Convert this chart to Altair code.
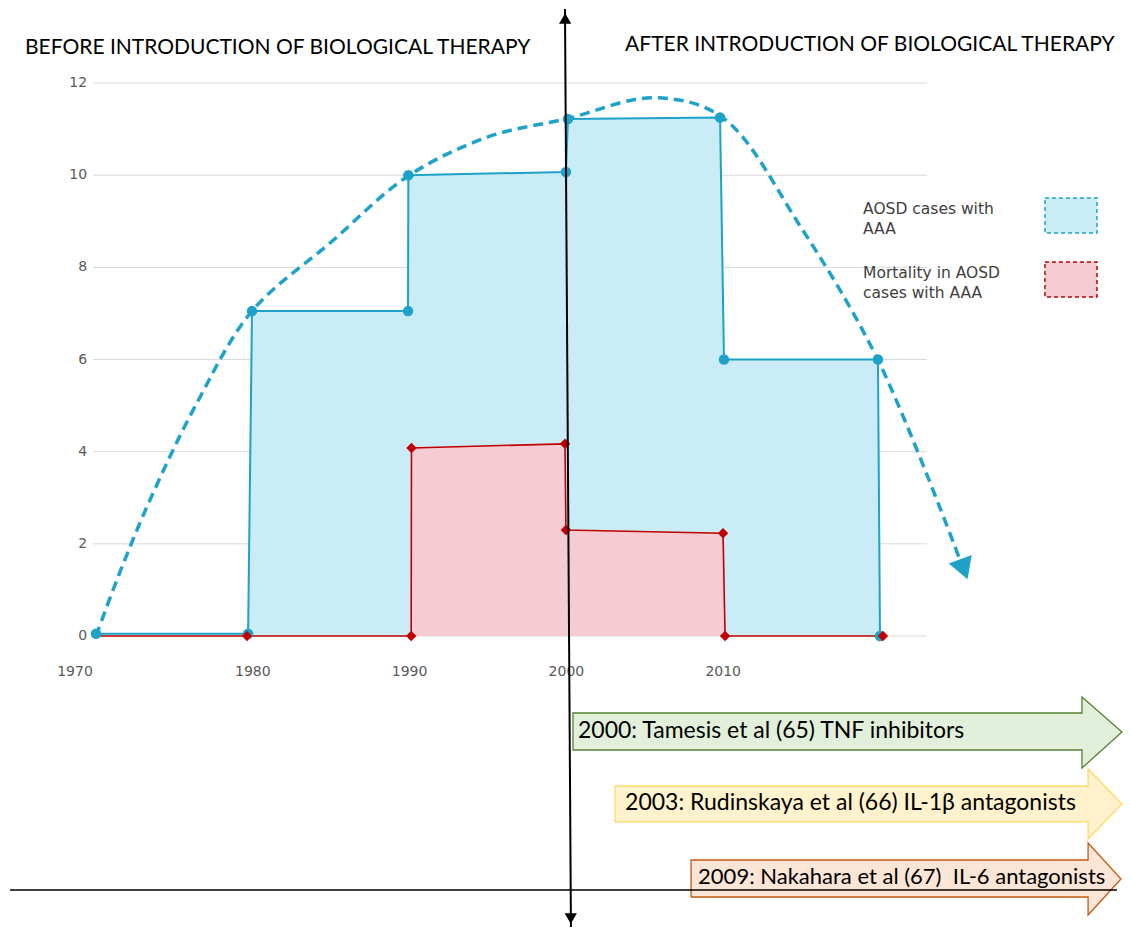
import altair as alt
import pandas as pd

# ---------------- data ----------------
case_years = [1970.0, 1979.7, 1979.95, 1989.9, 1989.92, 1999.97, 2000.1, 2009.8, 2010.05, 2019.87, 2020.0]
case_counts = [0.05, 0.05, 7.05, 7.05, 10.0, 10.07, 11.22, 11.25, 6.0, 6.0, 0.0]

mort_years = [1970.0, 1979.63, 1990.1, 1990.12, 1999.91, 1999.97, 2009.99, 2010.12, 2020.19]
mort_counts = [0.0, 0.0, 0.0, 4.08, 4.17, 2.3, 2.23, 0.0, 0.0]

trend_years = [1970.0, 1971.6, 1973.44, 1976.5, 1979.95, 1985.0, 1989.9, 1995.0, 1999.97,
               2005.6, 2009.92, 2014.9, 2019.87, 2025.1]
trend_counts = [0.0, 1.45, 2.95, 5.1, 7.05, 8.55, 9.98, 10.83, 11.22,
                11.68, 11.26, 8.9, 5.99, 1.65]

y_ticks = [0, 2, 4, 6, 8, 10, 12]
x_ticks = [1970, 1980, 1990, 2000, 2010]

title_before = "BEFORE INTRODUCTION OF BIOLOGICAL THERAPY"
title_after = "AFTER INTRODUCTION OF BIOLOGICAL THERAPY"
legend_lines = [["AOSD cases with", "AAA"], ["Mortality in AOSD", "cases with AAA"]]
events = ["2000: Tamesis et al (65) TNF inhibitors",
          "2003: Rudinskaya et al (66) IL-1\u03b2 antagonists",
          "2009: Nakahara et al (67) \u00a0IL-6 antagonists"]

# ---------------- layout (in chart units: years / counts) ----------------
X0, X1 = 1964.388, 2035.498
Y0, Y1 = -6.337, 13.628
GRID_X = (1969.81, 2023.0)
YLAB_X = 1969.43
XLAB_Y = -0.78
XLAB_POS = [1968.66, 1980.0, 1990.0, 2000.0, 2010.0]

BLUE = "#1ea2c9"
BLUE_FILL = "#c9ecf7"
RED = "#c00000"
PINK_FILL = "#f5ccd4"

# arrows: start x, head x, tip x, body top/bottom, head top/bottom, mid
arrow_geo = [
    (2000.42, 2032.88, 2035.43, -1.671, -2.474, -1.324, -2.865, -2.083),
    (2003.10, 2033.27, 2035.43, -3.255, -4.036, -2.886, -4.405, -3.646),
    (2007.95, 2033.27, 2035.37, -4.861, -5.664, -4.492, -6.055, -5.273),
]
arrow_text_pos = [(2000.74, -2.062), (2003.74, -3.624), (2008.40, -5.230)]
arrow_text_size = [23, 23, 22]
arrow_fill = ["#e2efda", "#fff2cc", "#fbe5d6"]
arrow_stroke = ["#548235", "#ffd966", "#c55a11"]

XS = alt.Scale(domain=[X0, X1], nice=False, zero=False)
YS = alt.Scale(domain=[Y0, Y1], nice=False, zero=False)


def X(f="x"):
    return alt.X(f"{f}:Q", scale=XS, axis=None)


def Y(f="y"):
    return alt.Y(f"{f}:Q", scale=YS, axis=None)


layers = []

# gridlines
grid_df = pd.DataFrame({"y": y_ticks, "x": GRID_X[0], "x2": GRID_X[1]})
layers.append(alt.Chart(grid_df).mark_rule(color="#d9d9d9", strokeWidth=1)
              .encode(x=X(), x2=alt.X2("x2:Q"), y=Y()))

# axis labels
ylab_df = pd.DataFrame({"y": y_ticks, "x": YLAB_X, "t": [str(v) for v in y_ticks]})
layers.append(alt.Chart(ylab_df).mark_text(align="right", baseline="middle", font="DejaVu Sans",
                                           fontSize=14, color="#595959")
              .encode(x=X(), y=Y(), text="t:N"))
xlab_df = pd.DataFrame({"x": XLAB_POS, "y": XLAB_Y, "t": [str(v) for v in x_ticks]})
layers.append(alt.Chart(xlab_df).mark_text(align="center", baseline="middle", font="DejaVu Sans",
                                           fontSize=14, color="#595959")
              .encode(x=X(), y=Y(), text="t:N"))

# areas (x sorted)
cases_df = pd.DataFrame({"x": case_years, "y": case_counts, "b": 0.0, "i": range(len(case_years))})
mort_df = pd.DataFrame({"x": mort_years, "y": mort_counts, "b": 0.0, "i": range(len(mort_years))})
layers.append(alt.Chart(cases_df).mark_area(color=BLUE_FILL, opacity=1)
              .encode(x=X(), y=Y(), y2=alt.Y2("b:Q")))
layers.append(alt.Chart(mort_df).mark_area(color=PINK_FILL, opacity=1)
              .encode(x=X(), y=Y(), y2=alt.Y2("b:Q")))

# outlines
layers.append(alt.Chart(cases_df).mark_line(color=BLUE, strokeWidth=2)
              .encode(x=X(), y=Y(), order="i:Q"))
layers.append(alt.Chart(mort_df).mark_line(color=RED, strokeWidth=1.6)
              .encode(x=X(), y=Y(), order="i:Q"))

# trend curve
trend_df = pd.DataFrame({"x": trend_years, "y": trend_counts})
layers.append(alt.Chart(trend_df).mark_line(color=BLUE, strokeWidth=3.5, strokeDash=[10, 6],
                                            interpolate="catmull-rom")
              .encode(x=X(), y=Y()))
head_df = pd.DataFrame({"x": [2025.35], "y": [1.45]})
layers.append(alt.Chart(head_df).mark_point(shape="triangle-up", angle=160, filled=True,
                                            size=600, color=BLUE, opacity=1)
              .encode(x=X(), y=Y()))

# markers
layers.append(alt.Chart(cases_df).mark_circle(size=110, color=BLUE, opacity=1)
              .encode(x=X(), y=Y()))
layers.append(alt.Chart(mort_df.iloc[1:]).mark_point(shape="diamond", filled=True, size=110,
                                                     color=RED, opacity=1)
              .encode(x=X(), y=Y()))

# titles
title_df = pd.DataFrame({"x": [1965.47, 2003.74], "y": [12.76, 12.826], "t": [title_before, title_after]})
layers.append(alt.Chart(title_df).mark_text(align="left", baseline="middle", font="Lato",
                                            fontSize=21, color="#000000")
              .encode(x=X(), y=Y(), text="t:N"))

# legend
leg_txt = pd.DataFrame({"x": 2018.92, "y": [9.266, 8.832, 7.878, 7.444],
                        "t": legend_lines[0] + legend_lines[1]})
layers.append(alt.Chart(leg_txt).mark_text(align="left", baseline="middle", font="DejaVu Sans",
                                           fontSize=15.5, color="#404040")
              .encode(x=X(), y=Y(), text="t:N"))
leg_box = [(9.505, 8.746, BLUE_FILL, BLUE), (8.116, 7.357, PINK_FILL, RED)]
for yt, yb, f, s in leg_box:
    df = pd.DataFrame({"x": [2030.52], "x2": [2033.84], "y": [yt], "y2": [yb]})
    layers.append(alt.Chart(df).mark_rect(fill=f, stroke=s, strokeDash=[4, 3], strokeWidth=1.5)
                  .encode(x=X(), x2=alt.X2("x2:Q"), y=Y(), y2=alt.Y2("y2:Q")))

# timeline arrows
for k, (xl, xh, tip, bt, bb, ht, hb, mid) in enumerate(arrow_geo):
    df = pd.DataFrame({"x": [xl, xh, xh + 0.002, tip], "y": [bt, bt, ht, mid], "y2": [bb, bb, hb, mid]})
    layers.append(alt.Chart(df).mark_area(fill=arrow_fill[k], stroke=arrow_stroke[k],
                                          strokeWidth=1.3, opacity=1)
                  .encode(x=X(), y=Y(), y2=alt.Y2("y2:Q")))

# horizontal black timeline rule
hl = pd.DataFrame({"x": [1964.52], "x2": [2035.11], "y": [-5.51]})
layers.append(alt.Chart(hl).mark_rule(color="black", strokeWidth=1.5)
              .encode(x=X(), x2=alt.X2("x2:Q"), y=Y()))

for k, (tx, ty) in enumerate(arrow_text_pos):
    df = pd.DataFrame({"x": [tx], "y": [ty], "t": [events[k]]})
    layers.append(alt.Chart(df).mark_text(align="left", baseline="middle", font="Lato",
                                          fontSize=arrow_text_size[k], color="#000000")
                  .encode(x=X(), y=Y(), text="t:N"))

# vertical divider arrow
vl = pd.DataFrame({"x": [1999.91], "x2": [2000.29], "y": [13.607], "y2": [-6.315]})
layers.append(alt.Chart(vl).mark_rule(color="black", strokeWidth=2)
              .encode(x=X(), x2=alt.X2("x2:Q"), y=Y(), y2=alt.Y2("y2:Q")))
tri = pd.DataFrame({"x": [1999.92, 2000.28], "y": [13.40, -6.13], "s": ["triangle-up", "triangle-down"]})
layers.append(alt.Chart(tri).mark_point(filled=True, size=150, color="black", opacity=1)
              .encode(x=X(), y=Y(),
                      shape=alt.Shape("s:N", scale=alt.Scale(domain=["triangle-up", "triangle-down"],
                                                             range=["triangle-up", "triangle-down"]),
                                      legend=None)))

chart = alt.layer(*layers).properties(
    width=1115, height=920, padding=0,
    autosize=alt.AutoSizeParams(type="none"),
    background="white",
).configure_view(stroke=None)

chart.save("out.html", embed_options={"renderer": "svg", "actions": False})
